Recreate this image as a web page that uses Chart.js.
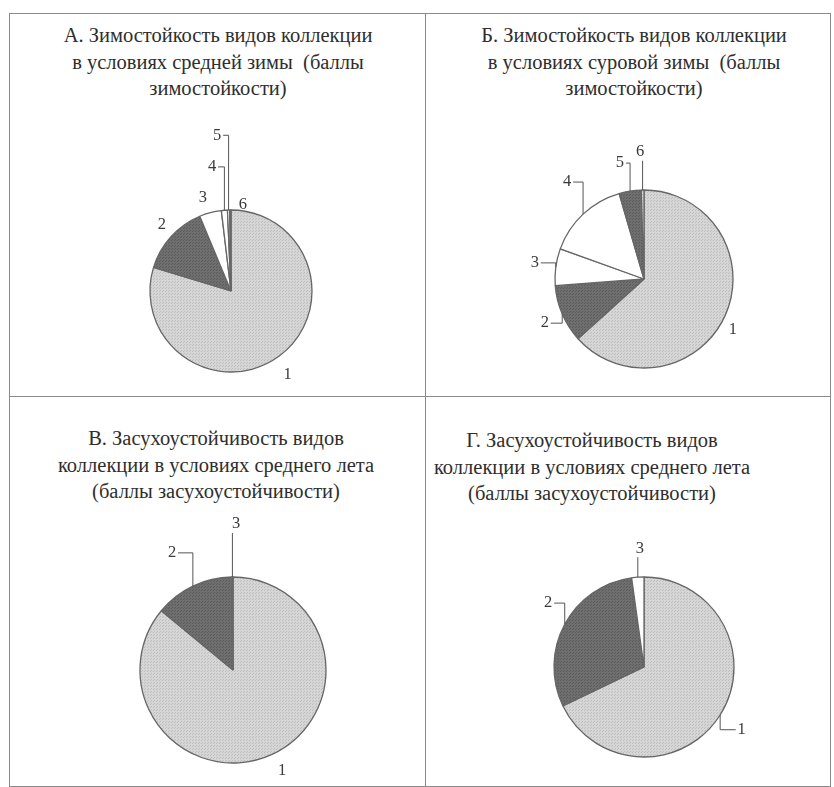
<!DOCTYPE html>
<html>
<head>
<meta charset="utf-8">
<script src="https://cdn.jsdelivr.net/npm/chart.js@4/dist/chart.umd.min.js"></script>
<style>
  body { margin: 0; background: #fff; width: 834px; height: 787px; position: relative; overflow: hidden; font-family: "Liberation Serif", serif; }
  canvas { position: absolute; }
  .frame { position: absolute; border: 1.5px solid #8a8a8a; box-sizing: border-box; }
  .title { position: absolute; width: 420px; text-align: center; font-size: 20.5px; line-height: 26.5px; color: #2e2e2e; white-space: nowrap; }
</style>
</head>
<body>
<div class="frame" style="left:9px;top:13px;width:822px;height:774px;"></div>
<div class="frame" style="left:425px;top:13px;width:0;height:774px;border-width:0 0 0 1.5px;"></div>
<div class="frame" style="left:9px;top:396px;width:822px;height:0;border-width:1.5px 0 0 0;"></div>

<div class="title" style="left:8px;top:22px;">А. Зимостойкость видов коллекции<br>в условиях средней зимы&nbsp; (баллы<br>зимостойкости)</div>
<div class="title" style="left:424px;top:22px;">Б. Зимостойкость видов коллекции<br>в условиях суровой зимы&nbsp; (баллы<br>зимостойкости)</div>
<div class="title" style="left:6px;top:425px;">В. Засухоустойчивость видов<br>коллекции в условиях среднего лета<br>(баллы засухоустойчивости)</div>
<div class="title" style="left:382px;top:427px;">Г. Засухоустойчивость видов<br>коллекции в условиях среднего лета<br>(баллы засухоустойчивости)</div>

<canvas id="chartA"></canvas>
<canvas id="chartB"></canvas>
<canvas id="chartC"></canvas>
<canvas id="chartD"></canvas>

<script>
// scores (баллы) and share of species, %
const scoresWinter = ["1", "2", "3", "4", "5", "6"];
const scoresDrought = ["1", "2", "3"];
const valuesA = [79.7, 14.0, 4.4, 1.2, 0.45, 0.25];
const valuesB = [63.3, 10.5, 6.7, 15.0, 4.0, 0.5];
const valuesC = [86.0, 13.8, 0.2];
const valuesD = [67.9, 29.9, 2.2];

function stipple(base, dot) {
  const c = document.createElement("canvas");
  c.width = 3; c.height = 3;
  const g = c.getContext("2d");
  g.fillStyle = base; g.fillRect(0, 0, 3, 3);
  g.fillStyle = dot; g.fillRect(0, 0, 1, 1); g.fillRect(2, 1, 1, 1);
  return g.createPattern(c, "repeat");
}
const LIGHT = stipple("#d6d6d6", "#bdbdbd");
const DARK = stipple("#6f6f6f", "#5a5a5a");
const WHITE = "#ffffff";

// label placement: a = angle (deg, clockwise from top), r = distance in radii
const pieLabels = {
  id: "pieLabels",
  afterDatasetsDraw(chart, args, opts) {
    const ctx = chart.ctx;
    const arcs = chart.getDatasetMeta(0).data;
    ctx.save();
    ctx.font = '16.5px "Liberation Serif"';
    ctx.fillStyle = "#3a3a3a";
    ctx.strokeStyle = "#555";
    ctx.lineWidth = 1;
    ctx.textAlign = "center";
    ctx.textBaseline = "middle";
    arcs.forEach((arc, i) => {
      const p = opts.place[i];
      const { x, y, startAngle, endAngle, outerRadius } =
        arc.getProps(["x", "y", "startAngle", "endAngle", "outerRadius"], true);
      const la = (p.a - 90) * Math.PI / 180;
      const lx = x + Math.cos(la) * outerRadius * p.r;
      const ly = y + Math.sin(la) * outerRadius * p.r;
      if (p.lead) {
        const mid = (startAngle + endAngle) / 2;
        const ex = x + Math.cos(mid) * outerRadius;
        const ey = y + Math.sin(mid) * outerRadius;
        ctx.beginPath();
        ctx.moveTo(ex, ey);
        if (Math.abs(ex - lx) < 8) {
          ctx.lineTo(ex, ly + (ey > ly ? 9 : -9));
        } else {
          ctx.lineTo(ex, ly);
          ctx.lineTo(lx + (ex > lx ? 6 : -6), ly);
        }
        ctx.stroke();
      }
      ctx.fillText(chart.data.labels[i], lx, ly);
    });
    ctx.restore();
  }
};

const BW = 1.3;

function drawPie(id, panel, pie, labels, values, colors, place) {
  const cv = document.getElementById(id);
  cv.style.left = panel.x + "px";
  cv.style.top = panel.y + "px";
  cv.width = panel.w;
  cv.height = panel.h;
  const cx = pie.cx - panel.x, cy = pie.cy - panel.y, half = pie.r + BW / 2;
  return new Chart(cv.getContext("2d"), {
    type: "pie",
    data: {
      labels,
      datasets: [{ data: values, backgroundColor: colors, borderColor: "#666", borderWidth: BW }]
    },
    options: {
      responsive: false,
      animation: false,
      layout: {
        padding: { left: cx - half, right: panel.w - cx - half, top: cy - half, bottom: panel.h - cy - half }
      },
      plugins: {
        legend: { display: false },
        tooltip: { enabled: false },
        pieLabels: { place }
      }
    },
    plugins: [pieLabels]
  });
}

drawPie("chartA", { x: 10, y: 14, w: 414, h: 381 }, { cx: 231, cy: 291, r: 81 },
  scoresWinter, valuesA, [LIGHT, DARK, WHITE, WHITE, WHITE, DARK],
  [{ a: 146, r: 1.25 }, { a: 313.7, r: 1.18 }, { a: 343.2, r: 1.2 },
   { a: 351.3, r: 1.55, lead: true }, { a: 354.9, r: 1.93, lead: true }, { a: 7.9, r: 1.07 }]);

drawPie("chartB", { x: 426, y: 14, w: 404, h: 381 }, { cx: 644, cy: 279, r: 89 },
  scoresWinter, valuesB, [LIGHT, DARK, WHITE, WHITE, DARK, LIGHT],
  [{ a: 119.8, r: 1.15 }, { a: 246, r: 1.22, lead: true }, { a: 278.4, r: 1.24, lead: true },
   { a: 321.6, r: 1.39, lead: true }, { a: 348.3, r: 1.33, lead: true }, { a: 358.2, r: 1.43, lead: true }]);

drawPie("chartC", { x: 10, y: 397, w: 414, h: 389 }, { cx: 233, cy: 670, r: 93 },
  scoresDrought, valuesC, [LIGHT, DARK, WHITE],
  [{ a: 153.9, r: 1.2 }, { a: 332.5, r: 1.42, lead: true }, { a: 1.2, r: 1.57, lead: true }]);

drawPie("chartD", { x: 426, y: 397, w: 404, h: 389 }, { cx: 644, cy: 667, r: 90 },
  scoresDrought, valuesD, [LIGHT, DARK, WHITE],
  [{ a: 122.7, r: 1.29, lead: true }, { a: 303.7, r: 1.28, lead: true }, { a: 358, r: 1.32, lead: true }]);
</script>
</body>
</html>
